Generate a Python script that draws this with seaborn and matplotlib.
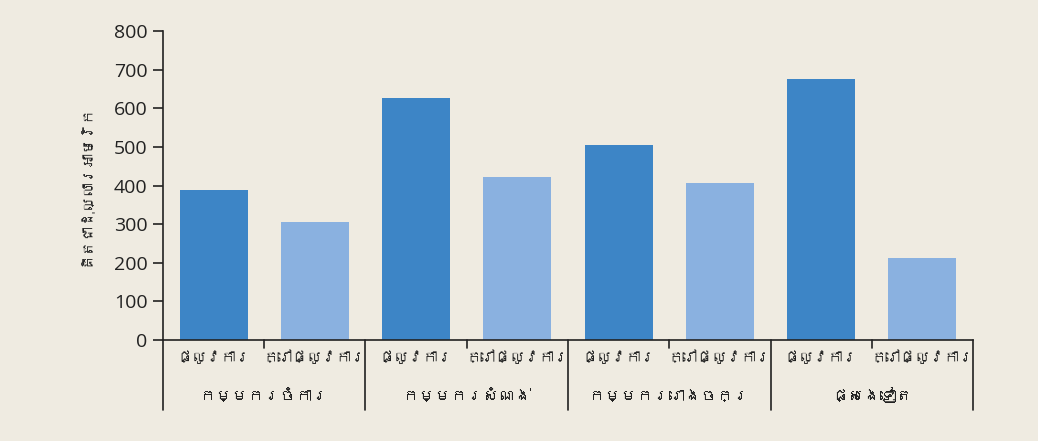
import pandas as pd
import numpy as np
import matplotlib.pyplot as plt
import seaborn as sns
from matplotlib import font_manager
from matplotlib.ft2font import FT2Font
from matplotlib.transforms import blended_transform_factory

groups = ['កម្មករចំការ', 'កម្មករសំណង់', 'កម្មកររោងចក្រ', 'ផ្សេងទៀត']
types = ['ផ្លូវការ', 'ក្រៅផ្លូវការ']
formal = [388, 626, 505, 675]
informal = [305, 422, 406, 212]
y_label = 'គិតជាដុល្លារអាមេរិក'
y_ticks = [0, 100, 200, 300, 400, 500, 600, 700, 800]

rows = []
for i, g in enumerate(groups):
    rows.append({'group': g, 'type': types[0], 'key': f'{i}a', 'value': formal[i]})
    rows.append({'group': g, 'type': types[1], 'key': f'{i}b', 'value': informal[i]})
df = pd.DataFrame(rows)

# look for any installed font that has Khmer glyphs
khmer_fonts = []
for f in font_manager.fontManager.ttflist:
    try:
        if 0x1780 in FT2Font(f.fname).get_charmap():
            if f.name not in khmer_fonts:
                khmer_fonts.append(f.name)
    except Exception:
        pass

bg = '#efebe1'
sns.set_theme(style='ticks')
plt.rcParams['font.family'] = ['Open Sans'] + khmer_fonts + ['Noto Sans', 'DejaVu Sans']

fig = plt.figure(figsize=(10.38, 4.41), dpi=100, facecolor=bg)
ax = fig.add_axes([0.157, 0.229, 0.7804, 0.7007])
ax.set_facecolor(bg)

sns.barplot(data=df, x='key', y='value', hue='type', palette=['#3d85c6', '#8ab1e0'],
            dodge=False, width=0.67, legend=False, ax=ax, saturation=1, linewidth=0)

ax.set_xlim(-0.5, len(df) - 0.5)
ax.set_ylim(0, 800)
ax.set_yticks(y_ticks)
ax.tick_params(axis='y', labelsize=14, length=7, width=1.2, colors='#222222', pad=4)
ax.set_ylabel(y_label, fontsize=10.5, color='#222222', labelpad=14)
ax.set_xlabel('')
ax.set_xticks(np.arange(len(df)))
ax.set_xticklabels(df['type'], fontsize=10.5, color='#222222')
ax.tick_params(axis='x', length=0, pad=8)

for s in ['top', 'right']:
    ax.spines[s].set_visible(False)
for s in ['left', 'bottom']:
    ax.spines[s].set_color('#222222')
    ax.spines[s].set_linewidth(1.2)

trans = blended_transform_factory(ax.transData, ax.transAxes)
for i in range(len(groups) + 1):
    xp = 2 * i - 0.5
    ax.plot([xp, xp], [0, -0.225], transform=trans, color='#222222', lw=1.2, clip_on=False)
for i in range(len(groups)):
    xp = 2 * i + 0.5
    ax.plot([xp, xp], [0, -0.025], transform=trans, color='#222222', lw=1.2, clip_on=False)
    ax.text(2 * i + 0.5, -0.185, groups[i], transform=trans, ha='center', va='center',
            fontsize=11.5, color='#222222')

plt.savefig('out.png', dpi=100, facecolor=bg)
